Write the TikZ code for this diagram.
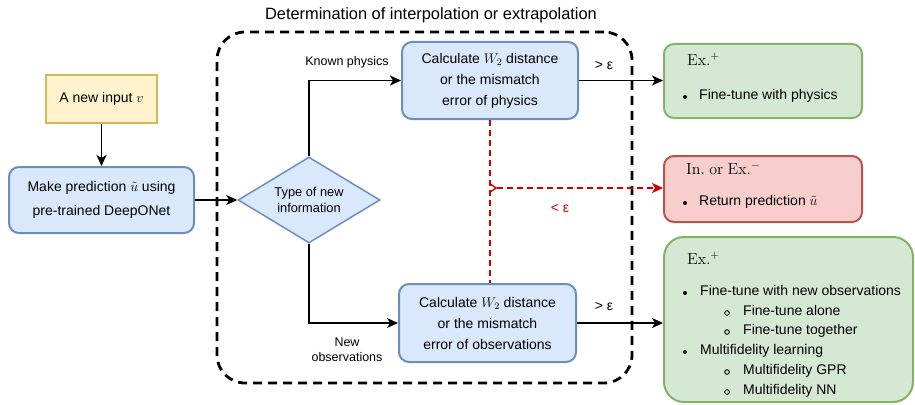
\RequirePackage{fix-cm}
\documentclass[tikz,border=0pt]{standalone}
\usepackage[no-math]{fontspec}
\setmainfont{Liberation Sans}
\usetikzlibrary{shapes.geometric,arrows.meta}
\definecolor{bluefill}{HTML}{DAE8FC}
\definecolor{bluedraw}{HTML}{6C8EBF}
\definecolor{yelfill}{HTML}{FFF2CC}
\definecolor{yeldraw}{HTML}{D6B656}
\definecolor{grnfill}{HTML}{D5E8D4}
\definecolor{grndraw}{HTML}{82B366}
\definecolor{redfill}{HTML}{F8CECC}
\definecolor{reddraw}{HTML}{B85450}
\definecolor{redline}{HTML}{D00000}
\begin{document}
\begin{tikzpicture}[x=1pt,y=-1pt,
  box/.style={draw, line width=2pt, align=center, inner sep=0pt, font=\fontsize{14}{21}\selectfont},
  bluebox/.style={box, fill=bluefill, draw=bluedraw, rounded corners=10pt},
  yelbox/.style={box, fill=yelfill, draw=yeldraw},
  grnbox/.style={box, fill=grnfill, draw=grndraw, rounded corners=10pt},
  redbox/.style={box, fill=redfill, draw=reddraw, rounded corners=10pt},
  diam/.style={diamond, draw=bluedraw, fill=bluefill, line width=1.5pt, inner sep=0pt, aspect=1.65,
    minimum width=142pt, minimum height=86pt, align=center, font=\fontsize{12.8}{16}\selectfont},
  lbl/.style={inner sep=0pt, align=center, font=\fontsize{12.5}{14.5}\selectfont},
  itm/.style={inner sep=0pt, anchor=mid west, font=\fontsize{14}{20}\selectfont},
  hdr/.style={inner sep=0pt, anchor=mid west, font=\fontsize{16}{20}\selectfont},
  tip/.style={-{Stealth[length=11pt,width=10pt,inset=3pt]}},
  conn/.style={line width=1.5pt, tip},
  reddash/.style={draw=redline, line width=1.8pt, dash pattern=on 6pt off 4pt},
  framebox/.style={draw, line width=2.8pt, dash pattern=on 9pt off 6pt, rounded corners=28pt, inner sep=0pt},
  hollow/.style={line width=0.9pt}
]
\useasboundingbox (0,0) rectangle (915,404);

% frame
\node[framebox, minimum width=415pt, minimum height=351pt] (frame) at (424.5,207.5) {};
\node[lbl, font=\fontsize{16.4}{20}\selectfont] (title) at (431,15) {Determination of interpolation or extrapolation};

% left column
\node[yelbox, minimum width=111pt, minimum height=48pt] (inp) at (101.5,99) {A new input $v$};
\node[bluebox, minimum width=185pt, minimum height=66pt, font=\fontsize{14}{24}\selectfont] (pred) at (101.5,200) {Make prediction $\tilde{u}$ using\\pre-trained DeepONet};
\node[diam] (typ) at (309,200) {Type of new\\information};

% middle boxes
\node[bluebox, minimum width=176pt, minimum height=77pt] (phy) at (490,80.5) {Calculate $W_2$ distance\\or the mismatch\\error of physics};
\node[bluebox, minimum width=177pt, minimum height=78pt] (obs) at (487.5,323) {Calculate $W_2$ distance\\or the mismatch\\error of observations};

% right boxes
\node[grnbox, minimum width=198pt, minimum height=74pt] (ex1) at (763,81) {};
\node[redbox, minimum width=198pt, minimum height=66pt] (inex) at (763,189) {};
\node[grnbox, rounded corners=20pt, minimum width=249pt, minimum height=165pt] (ex2) at (788.5,319.5) {};

% texts in right boxes
\node[hdr] (h1) at (687,63) {$\mathrm{Ex.}^{+}$};
\fill (685,97) circle (2pt);
\node[itm] (i1) at (699,97) {Fine-tune with physics};

\node[hdr] (h2) at (686,172) {$\mathrm{In.\ or\ Ex.}^{-}$};
\fill (685,203) circle (2pt);
\node[itm] (i2) at (699,203) {Return prediction $\tilde{u}$};

\node[hdr] (h3) at (687,262) {$\mathrm{Ex.}^{+}$};
\fill (685,293) circle (2pt);
\node[itm] (i3) at (700,293) {Fine-tune with new observations};
\draw[hollow] (727,313) circle (2.3pt);
\node[itm] (i4) at (743,313) {Fine-tune alone};
\draw[hollow] (727,332) circle (2.3pt);
\node[itm] (i5) at (743,332) {Fine-tune together};
\fill (685,352) circle (2pt);
\node[itm] (i6) at (700,352) {Multifidelity learning};
\draw[hollow] (727,372) circle (2.3pt);
\node[itm] (i7) at (743,372) {Multifidelity GPR};
\draw[hollow] (727,392) circle (2.3pt);
\node[itm] (i8) at (743,392) {Multifidelity NN};

% labels
\node[lbl] (kp) at (347,62) {Known physics};
\node[lbl] (nobs) at (347,350) {New\\observations};
\node[lbl, font=\fontsize{14}{16}\selectfont] (gt1) at (604,65) {> ε};
\node[lbl, font=\fontsize{14}{16}\selectfont] (gt2) at (604,306) {> ε};
\node[lbl, text=redline, font=\fontsize{14}{16}\selectfont] (lt) at (560,208) {< ε};

% connectors
\draw[conn] (inp) -- (pred);
\draw[conn] (pred.east) -- (typ.west);
\draw[conn] (typ.north) |- (phy.west);
\draw[conn] (typ.south) |- (obs.west);
\draw[conn] (phy.east) -- (phy.east -| ex1.west);
\draw[conn] (obs.east) -- (obs.east -| ex2.west);

% red dashed
\coordinate (j) at (490,188);
\draw[reddash] (phy.south) -- (phy.south |- obs.north);
\draw[draw=redline, line width=1.4pt] (491,184.5) -- (496,188) -- (491,191.5);
\draw[reddash, tip, fill=redline] ([xshift=7pt]j) -- (j -| inex.west);
\end{tikzpicture}
\end{document}
